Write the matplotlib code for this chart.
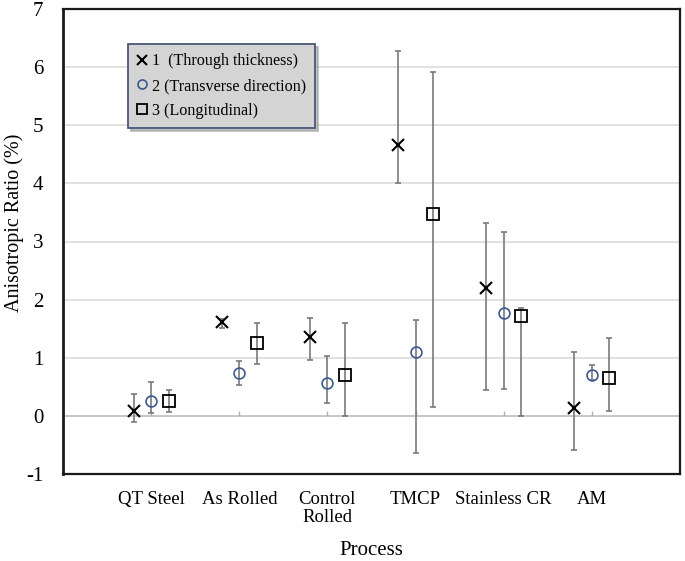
import matplotlib
matplotlib.use("Agg")
import matplotlib.pyplot as plt
import numpy as np
from matplotlib.lines import Line2D

categories = ["QT Steel", "As Rolled", "Control\nRolled", "TMCP", "Stainless CR", "AM"]
series_names = ["1  (Through thickness)", "2 (Transverse direction)", "3 (Longitudinal)"]

s1_mean = [0.08, 1.61, 1.36, 4.66, 2.20, 0.13]
s1_high = [0.37, 1.67, 1.69, 6.27, 3.32, 1.10]
s1_low = [-0.10, 1.52, 0.96, 4.00, 0.44, -0.58]

s2_mean = [0.25, 0.74, 0.57, 1.10, 1.77, 0.70]
s2_high = [0.58, 0.94, 1.03, 1.65, 3.17, 0.87]
s2_low = [0.05, 0.53, 0.22, -0.64, 0.47, 0.62]

s3_mean = [0.26, 1.25, 0.71, 3.48, 1.72, 0.66]
s3_high = [0.44, 1.60, 1.60, 5.91, 1.85, 1.34]
s3_low = [0.06, 0.90, 0.00, 0.15, 0.00, 0.08]

yticks = [-1, 0, 1, 2, 3, 4, 5, 6, 7]

plt.rcParams['font.family'] = ['Liberation Serif', 'DejaVu Serif']

fig = plt.figure(figsize=(6.85, 5.61), dpi=100)
ax = fig.add_axes([63/685, (561-474)/561, (680-63)/685, (474-9)/561])

x = np.arange(1, len(categories) + 1)
offsets = [-0.2, 0.0, 0.2]
styles = [
    dict(marker='x', ms=8.5, mec='black', mfc='none', mew=1.5),
    dict(marker='o', ms=7.8, mec='#3a5a8f', mfc='none', mew=1.2),
    dict(marker='s', ms=9, mec='black', mfc='none', mew=1.3),
]
data = [(s1_mean, s1_low, s1_high), (s2_mean, s2_low, s2_high), (s3_mean, s3_low, s3_high)]

for (m, lo, hi), off, st in zip(data, offsets, styles):
    m = np.array(m); lo = np.array(lo); hi = np.array(hi)
    yerr = np.vstack([m - lo, hi - m])
    ax.errorbar(x + off, m, yerr=yerr, fmt='none', ecolor='#7a7a7a',
                elinewidth=1.2, capsize=2.5, capthick=1.2, zorder=3)
    ax.plot(x + off, m, linestyle='none', zorder=4, **st)

ax.set_xlim(0, 7)
ax.set_ylim(-1, 7)
ax.set_yticks(yticks)
ax.set_yticklabels([str(v) for v in yticks], fontsize=15)
ax.set_xticks(x)
ax.set_xticklabels(categories, fontsize=13.5, linespacing=1.1)
ax.tick_params(axis='both', length=0)
ax.tick_params(axis='y', pad=14)
ax.tick_params(axis='x', pad=12)

ax.grid(axis='y', color='#dcdcdc', linewidth=1.2, zorder=0)
ax.set_axisbelow(True)
ax.axhline(0, color='#c8c8c8', linewidth=1.4, zorder=1)
ax.vlines(x, 0, 0.08, color='#b0b0b0', linewidth=1.0, zorder=1)

for sp in ax.spines.values():
    sp.set_color('#1a1a1a')
    sp.set_linewidth(1.6)
ax.spines['left'].set_linewidth(2.0)

ax.set_ylabel("Anisotropic Ratio (%)", fontsize=14.5)
ax.yaxis.set_label_coords(-0.064, 0.54)
ax.set_xlabel("Process", fontsize=15, labelpad=11)

handles = [Line2D([], [], linestyle='none', **st) for st in styles]
handles[0].set_markersize(7)
handles[1].set_markersize(6.5)
handles[2].set_markersize(7)
leg = ax.legend(handles, series_names, loc='upper left', bbox_to_anchor=(0.105, 0.924),
                borderaxespad=0, fontsize=11.6, handlelength=0.7, handletextpad=0.25,
                labelspacing=0.55, borderpad=0.55, fancybox=False,
                shadow={'color': '#9a9a9a', 'alpha': 0.6}, framealpha=1)
leg.get_frame().set_facecolor('#d4d4d4')
leg.get_frame().set_edgecolor('#4a5878')
leg.get_frame().set_linewidth(1.3)

fig.savefig("out.png", dpi=100)
